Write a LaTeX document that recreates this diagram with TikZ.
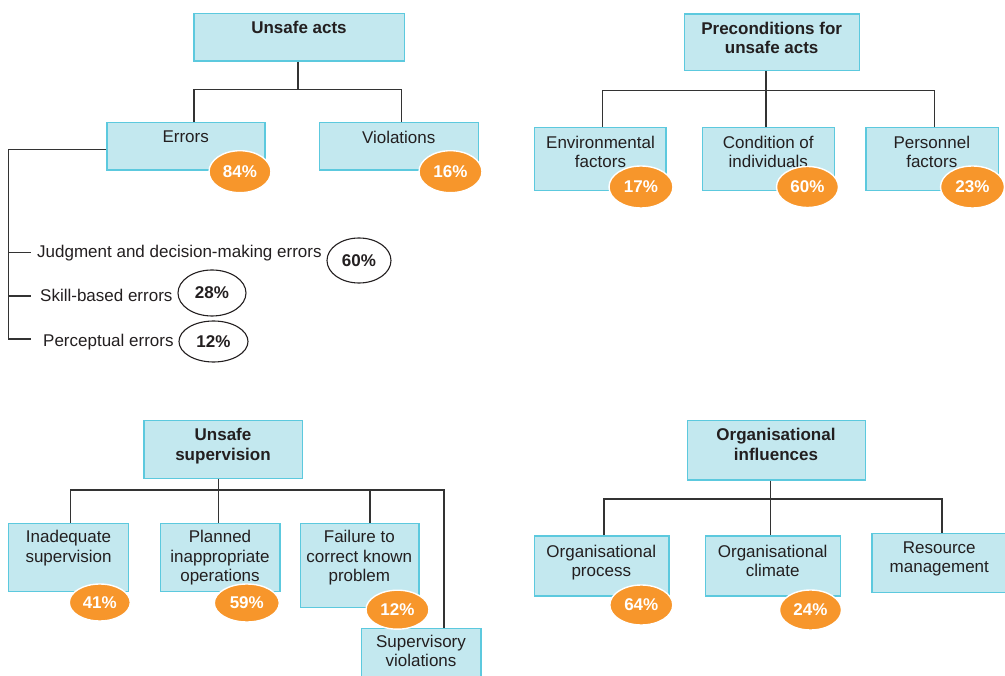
\documentclass[tikz,border=0pt]{standalone}
\usepackage{fontspec}
\setmainfont{Liberation Sans}
\usetikzlibrary{shapes.geometric}
\definecolor{boxfill}{HTML}{C3E8EF}
\definecolor{boxline}{HTML}{5CC9DE}
\definecolor{pctorange}{HTML}{F7962B}
\definecolor{ink}{HTML}{231F20}
\definecolor{wire}{HTML}{333333}
\begin{document}
\begin{tikzpicture}[x=1pt,y=-1pt,
  box/.style={rectangle, draw=boxline, fill=boxfill, line width=1.4pt, inner sep=0pt},
  sz/.style 2 args={minimum width=#1pt, minimum height=#2pt},
  lbl/.style={font=\fontsize{17}{19.5}\selectfont, text=ink, align=center, anchor=north, inner sep=0pt},
  head/.style={lbl, font=\fontsize{17}{19.5}\selectfont\bfseries},
  pct/.style={ellipse, fill=pctorange, draw=white, line width=1.4pt, inner sep=0pt,
    text=white, font=\fontsize{17}{19}\selectfont\bfseries},
  share/.style={ellipse, draw=ink, fill=white, line width=1.1pt, inner sep=0pt,
    text=ink, font=\fontsize{17}{19}\selectfont\bfseries},
  link/.style={draw=wire, line width=1.4pt},
  item/.style={font=\fontsize{17}{19}\selectfont, text=ink, anchor=base west, inner sep=0pt}
]
\useasboundingbox (0,0) rectangle (1005,676);
\clip (0,0) rectangle (1005,676);

% ---------- Unsafe acts ----------
\node[box, sz={210.3}{47.7}] (ua) at (299.2,37.2) {};
\node[head] (uat) at (299,20.7) {Unsafe acts};
\node[box, sz={158}{47.3}] (err) at (186,146.3) {};
\node[lbl] (errt) at (185.7,131) {Errors};
\node[box, sz={159}{47.3}] (vio) at (398.8,146.3) {};
\node[lbl] (viot) at (398.7,131) {Violations};

\coordinate (uabus) at (298,89.5);
\draw[link] (ua.south -| uabus) -- (uabus);
\draw[link] ([xshift=8pt]err.north) |- (uabus) -| ([xshift=2.5pt]vio.north);

% error types
\coordinate (spine) at (8.3,149.7);
\coordinate (tk1) at (30.7,252.7);
\coordinate (tk2) at (30.7,296);
\coordinate (tk3) at (30.7,339);
\draw[link] ([yshift=-3.4pt]err.west) -- (spine) |- (tk3);
\draw[link] (spine |- tk1) -- (tk1);
\draw[link] (spine |- tk2) -- (tk2);
\node[item] (jd) at (37,257.2) {Judgment and decision-making errors};
\node[item] (sb) at (40,301.5) {Skill-based errors};
\node[item] (pe) at (43,346.5) {Perceptual errors};
\node[share, minimum width=64pt, minimum height=45pt] (s60) at (359,260.5) {60\%};
\node[share, minimum width=68pt, minimum height=46pt] (s28) at (212,293) {28\%};
\node[share, minimum width=69pt, minimum height=41pt] (s12) at (213.5,341.5) {12\%};

\node[pct, minimum width=62pt, minimum height=42pt] (p84) at (240,171.7) {84\%};
\node[pct, minimum width=63pt, minimum height=42pt] (p16) at (450.5,171.7) {16\%};

% ---------- Preconditions for unsafe acts ----------
\node[box, sz={175}{56.7}] (pc) at (771.8,42.3) {};
\node[head] (pct) at (771.7,21.7) {Preconditions for\\unsafe acts};
\node[box, sz={131.7}{63}] (env) at (600.2,158.8) {};
\node[lbl] (envt) at (600.5,135.7) {Environmental\\factors};
\node[box, sz={131.6}{63}] (cnd) at (768.5,158.8) {};
\node[lbl] (cndt) at (768.3,135.7) {Condition of\\individuals};
\node[box, sz={132.3}{63}] (pers) at (932.2,158.8) {};
\node[lbl] (perst) at (931.8,135.7) {Personnel\\factors};

\coordinate (pcbus) at (766,90.7);
\draw[link] (pc.south -| pcbus) -- (cnd.north -| pcbus);
\draw[link] ([xshift=2.5pt]env.north) |- (pcbus) -| ([xshift=2pt]pers.north);

\node[pct, minimum width=64pt, minimum height=42pt] (p17) at (641,187) {17\%};
\node[pct, minimum width=62pt, minimum height=41pt] (p60) at (807.5,187) {60\%};
\node[pct, minimum width=64pt, minimum height=42pt] (p23) at (972.5,187) {23\%};

% ---------- Unsafe supervision ----------
\node[box, sz={158.7}{57.6}] (us) at (223.3,449.5) {};
\node[head] (ust) at (223,428) {Unsafe\\supervision};
\node[box, sz={119.6}{68.4}] (inad) at (68.5,557.5) {};
\node[lbl] (inadt) at (68.5,530) {Inadequate\\supervision};
\node[box, sz={119.3}{68.4}] (pl) at (220.3,557.5) {};
\node[lbl] (plt) at (220,530) {Planned\\inappropriate\\operations};
\node[box, sz={118.7}{84}] (fail) at (359.7,565.3) {};
\node[lbl] (failt) at (359.3,530) {Failure to\\correct known\\problem};
\node[box, sz={119.3}{66.7}] (sv) at (421.3,661.7) {};
\node[lbl] (svt) at (421,634.7) {Supervisory\\violations};

\coordinate (usbus) at (218.3,490);
\draw[link] (us.south -| usbus) -- (pl.north -| usbus);
\draw[link] ([xshift=2.2pt]inad.north) |- (usbus) -| ([xshift=22.7pt]sv.north);
\draw[link] ([xshift=10.3pt]fail.north) -- ([xshift=10.3pt]fail.north |- usbus);

\node[pct, minimum width=61pt, minimum height=37pt] (p41) at (99.8,602.5) {41\%};
\node[pct, minimum width=65pt, minimum height=38pt] (p59) at (246.8,603) {59\%};
\node[pct, minimum width=63pt, minimum height=39pt] (p12) at (397.5,609.7) {12\%};

% ---------- Organisational influences ----------
\node[box, sz={178.4}{59.3}] (oi) at (776.5,450.3) {};
\node[head] (oit) at (776,428.3) {Organisational\\influences};
\node[box, sz={134.7}{60}] (proc) at (601.7,566) {};
\node[lbl] (proct) at (601.3,544.7) {Organisational\\process};
\node[box, sz={134.6}{60}] (clim) at (773,566) {};
\node[lbl] (climt) at (772.7,544.7) {Organisational\\climate};
\node[box, sz={138}{59.4}] (res) at (941,563) {};
\node[lbl] (rest) at (939.3,541.3) {Resource\\management};

\coordinate (oibus) at (770.3,499);
\draw[link] (oi.south -| oibus) -- (clim.north -| oibus);
\draw[link] ([xshift=2.3pt]proc.north) |- (oibus) -| ([xshift=1pt]res.north);

\node[pct, minimum width=63pt, minimum height=40pt] (p64) at (641.3,605) {64\%};
\node[pct, minimum width=62pt, minimum height=40pt] (p24) at (810.5,610) {24\%};
\end{tikzpicture}
\end{document}
